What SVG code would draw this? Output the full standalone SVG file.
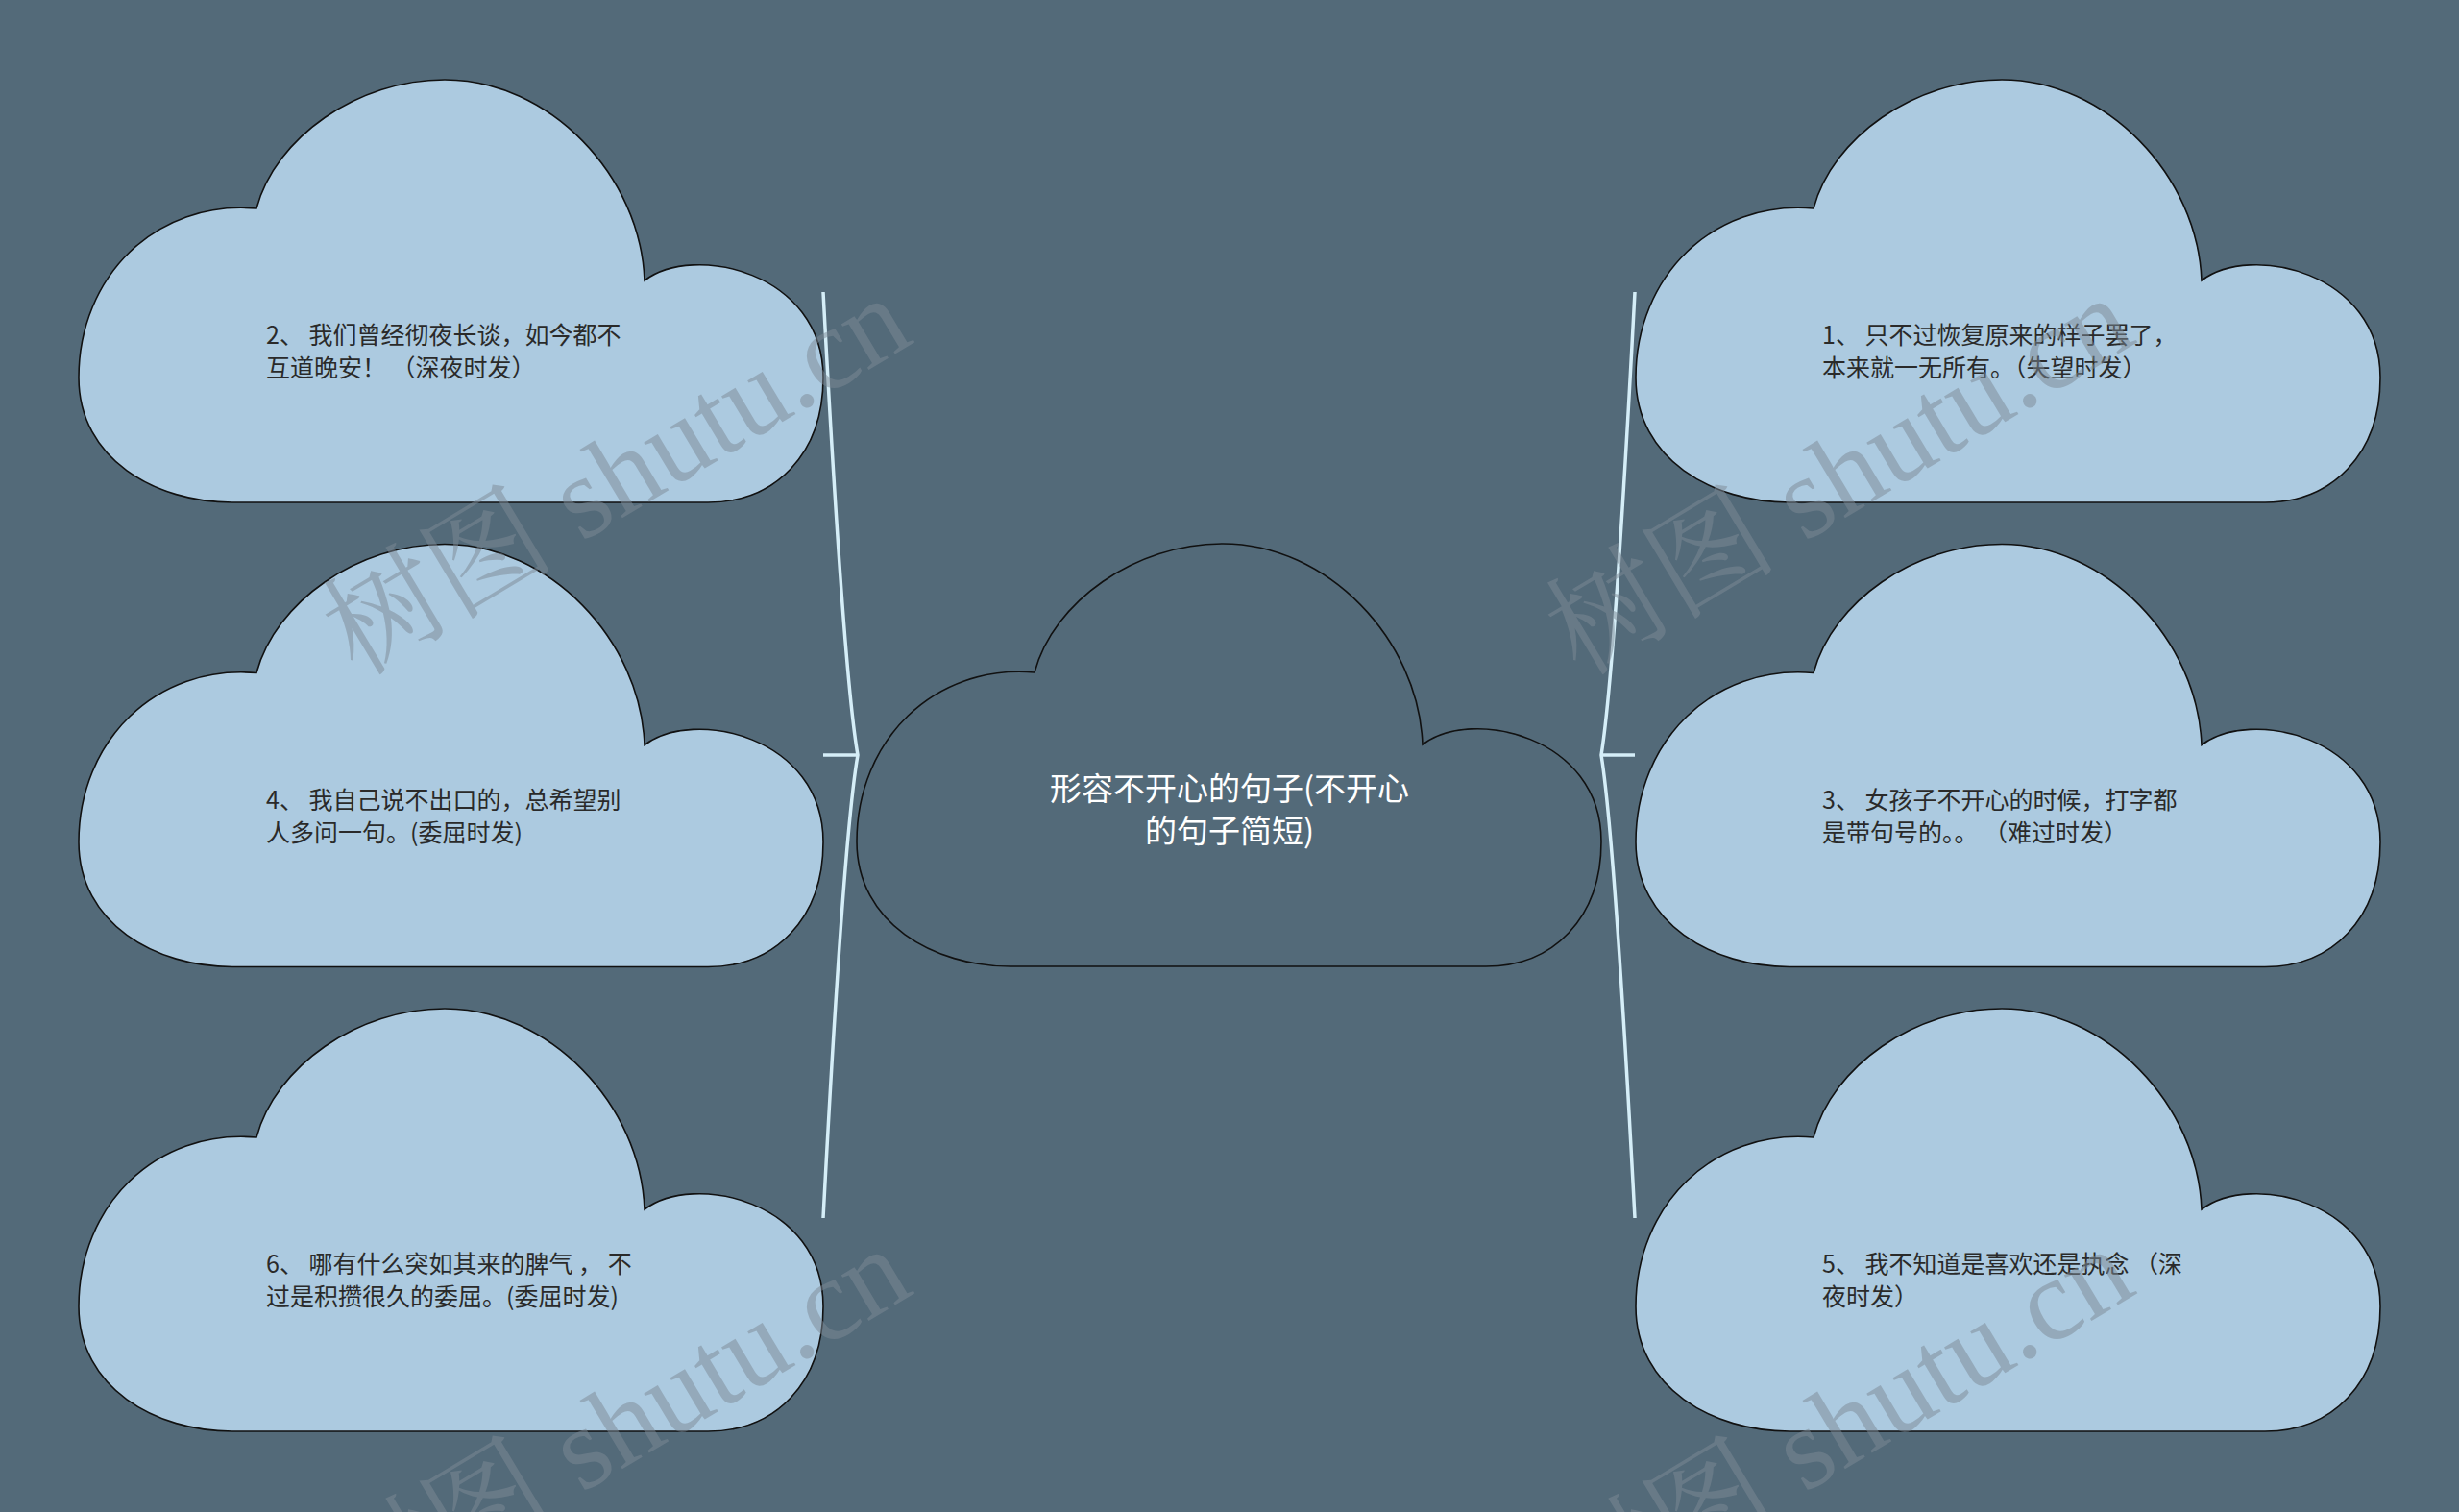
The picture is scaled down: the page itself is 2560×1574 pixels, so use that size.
<svg xmlns="http://www.w3.org/2000/svg" xmlns:xlink="http://www.w3.org/1999/xlink" width="2560" height="1574" viewBox="0 0 2560 1574">
<style>
.cloud{fill:#accae0;stroke:#111;stroke-width:1.6}
.cloud-main{fill:#536a79;stroke:#111;stroke-width:1.6}
.t{font-family:"Noto Sans CJK SC","Noto Sans",sans-serif;font-size:25px;fill:#2a2a2a}
.tm{font-family:"Noto Sans CJK SC","Noto Sans",sans-serif;font-size:33px;fill:#ffffff;text-anchor:middle}
.br{fill:none;stroke:#d5eef8;stroke-width:3.5;stroke-linejoin:miter}
.wm{font-family:"Liberation Serif","Noto Serif CJK SC","Noto Sans CJK SC",serif;font-size:121px;fill:#7d8a96;opacity:0.5}
</style>
<defs>
<path id="cloud" d="M185,134 C205,60 290,0 381,0 C490,0 585,100 589,209 C640,170 775,200 775,310 C775,390 725,440 655,440 L160,440 C80,440 0,395 0,310 C0,205 80,125 185,134 Z"/>
</defs>
<rect width="2560" height="1574" fill="#536a79"/>

<g id="connectors">
<path class="br" d="M857,304 Q878,700 893,786 Q878,872 857,1268"/>
<path class="br" d="M857,786 L893,786"/>
<path class="br" d="M1702,304 Q1681,700 1667,786 Q1681,872 1702,1268"/>
<path class="br" d="M1667,786 L1702,786"/>
</g>

<g id="node-center" transform="translate(892,566)">
<use xlink:href="#cloud" class="cloud-main"/>
<text class="tm" x="388" y="267">形容不开心的句子(不开心</text>
<text class="tm" x="388" y="311">的句子简短)</text>
</g>

<g id="node-2" transform="translate(82,83)">
<use xlink:href="#cloud" class="cloud"/>
<text class="t" x="195" y="275">2、 我们曾经彻夜长谈，如今都不</text>
<text class="t" x="195" y="309">互道晚安！ （深夜时发）</text>
</g>

<g id="node-4" transform="translate(82,566.5)">
<use xlink:href="#cloud" class="cloud"/>
<text class="t" x="195" y="275">4、 我自己说不出口的，总希望别</text>
<text class="t" x="195" y="309">人多问一句。(委屈时发)</text>
</g>

<g id="node-6" transform="translate(82,1050)">
<use xlink:href="#cloud" class="cloud"/>
<text class="t" x="195" y="275">6、 哪有什么突如其来的脾气 ， 不</text>
<text class="t" x="195" y="309">过是积攒很久的委屈。(委屈时发)</text>
</g>

<g id="node-1" transform="translate(1703,83)">
<use xlink:href="#cloud" class="cloud"/>
<text class="t" x="194" y="275">1、 只不过恢复原来的样子罢了，</text>
<text class="t" x="194" y="309">本来就一无所有。（失望时发）</text>
</g>

<g id="node-3" transform="translate(1703,566.5)">
<use xlink:href="#cloud" class="cloud"/>
<text class="t" x="194" y="275">3、 女孩子不开心的时候，打字都</text>
<text class="t" x="194" y="309">是带句号的。。 （难过时发）</text>
</g>

<g id="node-5" transform="translate(1703,1050)">
<use xlink:href="#cloud" class="cloud"/>
<text class="t" x="194" y="275">5、 我不知道是喜欢还是执念 （深</text>
<text class="t" x="194" y="309">夜时发）</text>
</g>

<g id="watermark">
<text class="wm" transform="translate(372,705) rotate(-31)">树图 shutu.cn</text>
<text class="wm" transform="translate(1645,705) rotate(-31)">树图 shutu.cn</text>
<text class="wm" transform="translate(372,1695) rotate(-31)">树图 shutu.cn</text>
<text class="wm" transform="translate(1645,1695) rotate(-31)">树图 shutu.cn</text>
</g>
</svg>
